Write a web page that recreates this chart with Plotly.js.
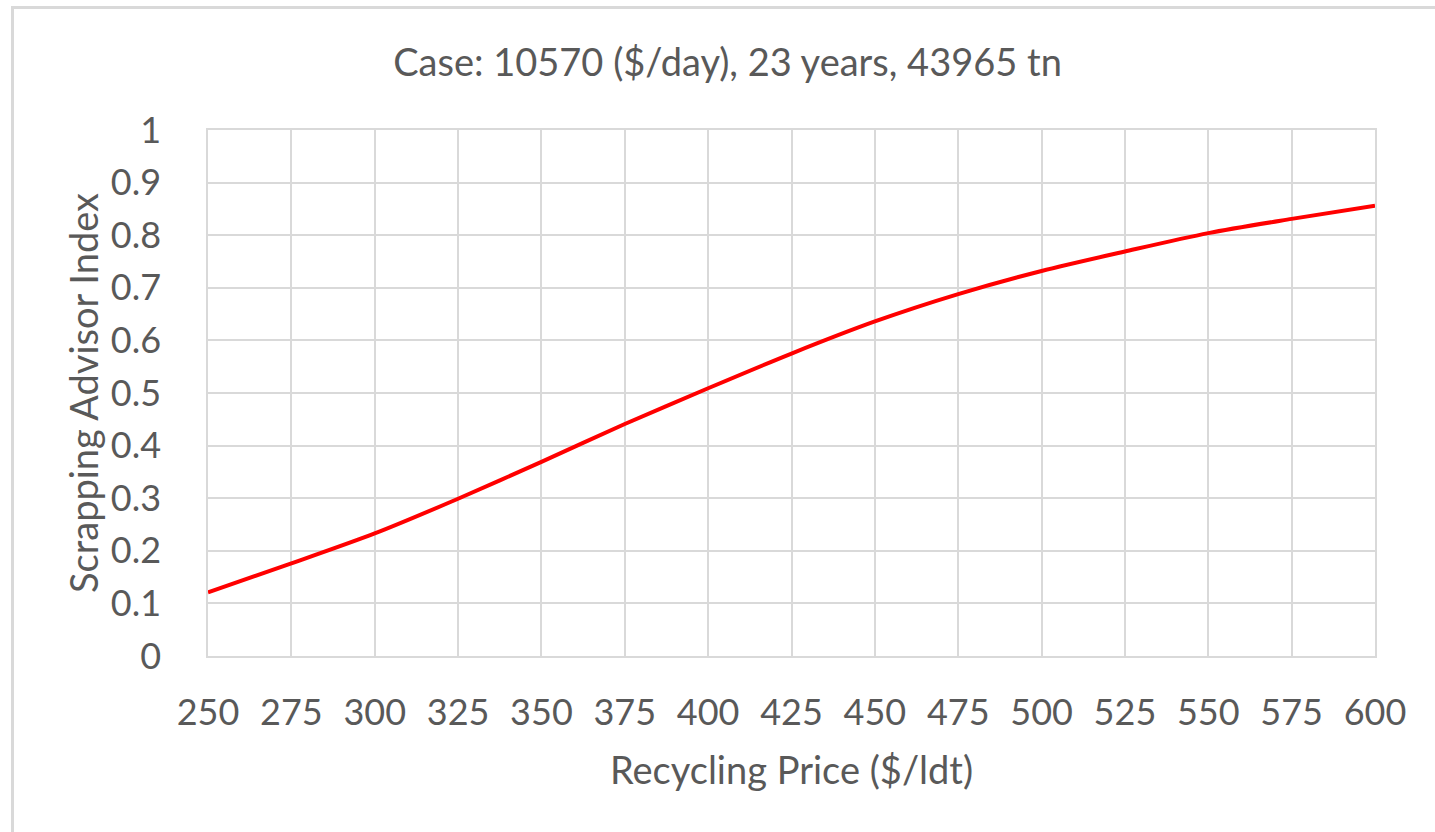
<!DOCTYPE html>
<html>
<head>
<meta charset="utf-8">
<script src="https://cdn.plot.ly/plotly-3.0.1.min.js"></script>
<style>
html,body{margin:0;padding:0;background:#fff;overflow:hidden;}
#wrap{position:relative;width:1435px;height:832px;}
#frame{position:absolute;left:11px;top:6px;width:1500px;height:900px;border:3px solid #d9d9d9;box-sizing:border-box;pointer-events:none;z-index:5;}
#chart{position:absolute;left:0;top:0;width:1435px;height:832px;}
</style>
</head>
<body>
<div id="wrap">
<div id="chart"></div>
<div id="frame"></div>
</div>
<script>
const recyclingPrice = [250, 275, 300, 325, 350, 375, 400, 425, 450, 475, 500, 525, 550, 575, 600];
const scrappingIndex = [0.121, 0.176, 0.233, 0.299, 0.369, 0.441, 0.509, 0.575, 0.636, 0.688, 0.732, 0.769, 0.804, 0.831, 0.856];
const xTicks = [250, 275, 300, 325, 350, 375, 400, 425, 450, 475, 500, 525, 550, 575, 600];
const yTicks = [0, 0.1, 0.2, 0.3, 0.4, 0.5, 0.6, 0.7, 0.8, 0.9, 1];
const yTickLabels = ['0', '0.1', '0.2', '0.3', '0.4', '0.5', '0.6', '0.7', '0.8', '0.9', '1'];

const fontFam = 'Lato, "Open Sans", sans-serif';
const grey = '#595959';

Plotly.newPlot('chart', [{
  x: recyclingPrice,
  y: scrappingIndex,
  type: 'scatter',
  mode: 'lines',
  line: {color: '#ff0000', width: 4, shape: 'spline', smoothing: 0.8},
  hoverinfo: 'x+y'
}], {
  width: 1435, height: 832,
  margin: {l: 208, r: 60, t: 130, b: 176},
  paper_bgcolor: '#ffffff', plot_bgcolor: '#ffffff',
  showlegend: false,
  title: {text: 'Case: 10570 ($/day), 23 years, 43965 tn', font: {family: fontFam, size: 38, color: grey}, x: 0.507, xanchor: 'center', y: 0.925, yanchor: 'middle'},
  xaxis: {
    range: [250, 600], tickmode: 'array', tickvals: xTicks, ticktext: xTicks.map(String),
    showgrid: true, gridcolor: '#d9d9d9', gridwidth: 1.5,
    showline: true, linecolor: '#d9d9d9', linewidth: 1.5, mirror: true,
    zeroline: false, ticks: '', ticklabelstandoff: 24,
    tickfont: {family: fontFam, size: 36, color: grey},
    title: {text: 'Recycling Price ($/ldt)', font: {family: fontFam, size: 38, color: grey}, standoff: 25}
  },
  yaxis: {
    range: [0, 1], tickmode: 'array', tickvals: yTicks, ticktext: yTickLabels,
    showgrid: true, gridcolor: '#d9d9d9', gridwidth: 1.5,
    showline: true, linecolor: '#d9d9d9', linewidth: 1.5, mirror: true,
    zeroline: false, ticks: '', ticklabelstandoff: 38,
    tickfont: {family: fontFam, size: 36, color: grey},
    title: {text: 'Scrapping Advisor Index', font: {family: fontFam, size: 38, color: grey}, standoff: 0}
  }
}, {displayModeBar: false, responsive: false});
</script>
</body>
</html>
